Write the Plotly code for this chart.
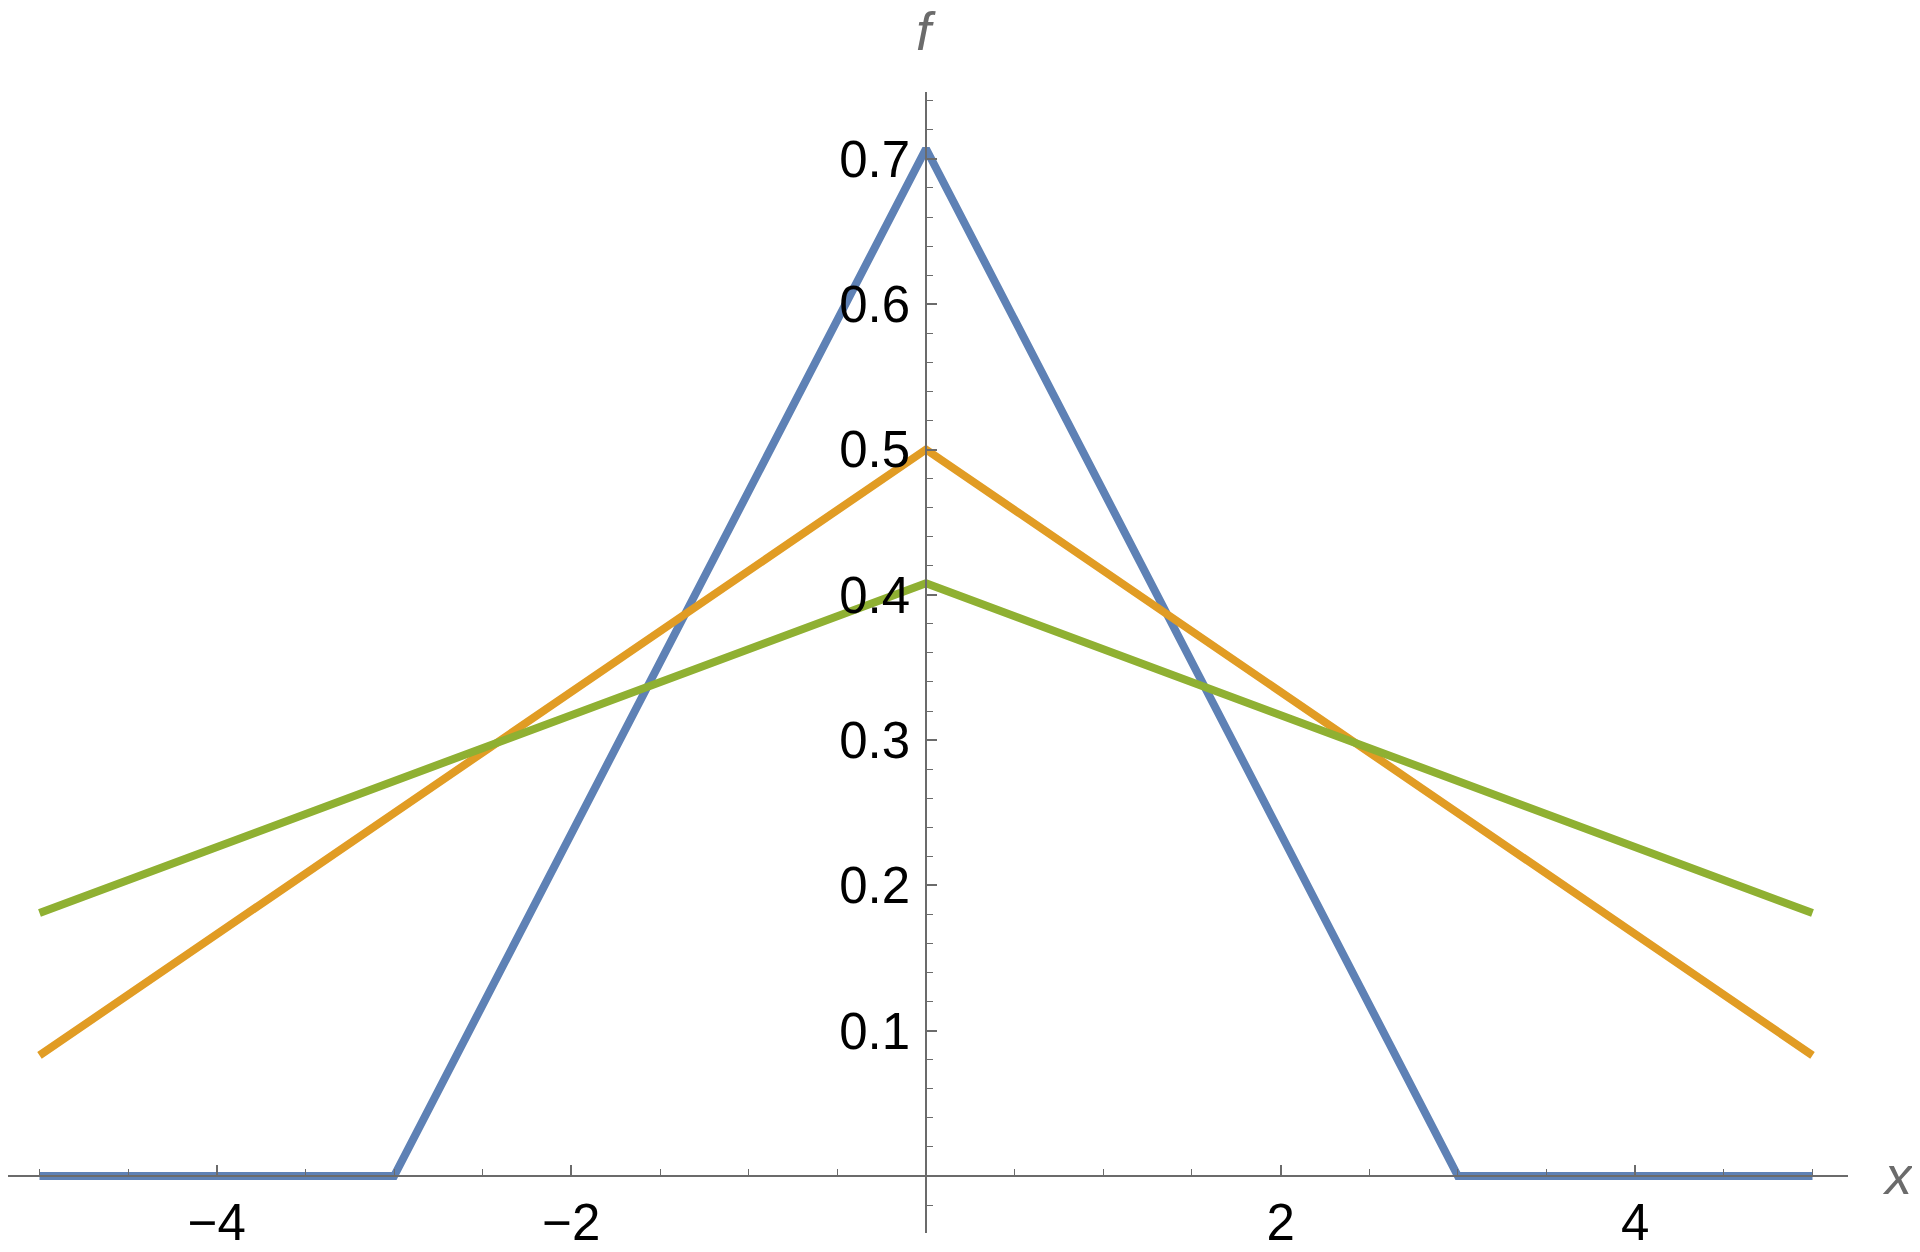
import plotly.graph_objects as go

# values
x_blue = [-5, -3, 0, 3, 5]
y_blue = [0, 0, 0.707, 0, 0]
x_orange = [-5, 0, 5]
y_orange = [0.083, 0.5, 0.083]
x_green = [-5, 0, 5]
y_green = [0.181, 0.408, 0.181]

x_ticks = [-4, -2, 2, 4]
x_tick_text = ["\u22124", "\u22122", "2", "4"]
y_ticks = [0.1, 0.2, 0.3, 0.4, 0.5, 0.6, 0.7]
y_tick_text = ["0.1", "0.2", "0.3", "0.4", "0.5", "0.6", "0.7"]

# the page body has an 8px margin, so the figure sits at (8, 8);
# size it so the page does not overflow the window
W, H = 1912, 1236
X0, Y0 = 918, 1168          # pixel position of the origin inside the figure
PX_X, PX_Y = 177.3, 1453.0  # pixels per data unit
AXIS_GRAY = "#6b6b6b"
FONT = "Liberation Sans, Arial, sans-serif"

fig = go.Figure()
fig.add_trace(go.Scatter(x=x_blue, y=y_blue, mode="lines",
                         line=dict(color="#5E81B5", width=8), name="a"))
fig.add_trace(go.Scatter(x=x_orange, y=y_orange, mode="lines",
                         line=dict(color="#E19C24", width=8), name="b"))
fig.add_trace(go.Scatter(x=x_green, y=y_green, mode="lines",
                         line=dict(color="#8FB032", width=8), name="c"))

tickfont = dict(family=FONT, size=51, color="black")

x_right = 1840
y_top, y_bot = 84, 1225

fig.update_layout(
    width=W, height=H,
    margin=dict(l=0, r=0, t=0, b=0),
    paper_bgcolor="white", plot_bgcolor="white",
    showlegend=False,
    xaxis=dict(
        domain=[0, x_right / W],
        range=[(0 - X0) / PX_X, (x_right - X0) / PX_X],
        anchor="free", position=(H - Y0) / H, automargin=False,
        showgrid=False, zeroline=False,
        showline=True, linecolor=AXIS_GRAY, linewidth=1.5,
        tickmode="array", tickvals=x_ticks, ticktext=x_tick_text,
        ticks="inside", ticklen=10, tickwidth=1.5, tickcolor=AXIS_GRAY,
        minor=dict(dtick=0.5, tick0=0, ticks="inside", ticklen=6,
                   tickwidth=1.2, tickcolor=AXIS_GRAY, showgrid=False),
        tickfont=tickfont, ticklabelstandoff=2,
    ),
    yaxis=dict(
        domain=[(H - y_bot) / H, (H - y_top) / H],
        range=[(Y0 - y_bot) / PX_Y, (Y0 - y_top) / PX_Y],
        anchor="free", position=X0 / W, automargin=False,
        showgrid=False, zeroline=False,
        showline=True, linecolor=AXIS_GRAY, linewidth=1.5,
        tickmode="array", tickvals=y_ticks, ticktext=y_tick_text,
        ticks="inside", ticklen=10, tickwidth=1.5, tickcolor=AXIS_GRAY,
        minor=dict(dtick=0.02, tick0=0, ticks="inside", ticklen=6,
                   tickwidth=1.2, tickcolor=AXIS_GRAY, showgrid=False),
        tickfont=tickfont, ticklabelstandoff=5,
    ),
    annotations=[
        dict(text="<i>f</i>", xref="paper", yref="paper",
             x=X0 / W, y=1 - 23 / H, xanchor="center", yanchor="middle",
             showarrow=False, font=dict(family=FONT, size=54, color=AXIS_GRAY)),
        dict(text="<i>x</i>", xref="paper", yref="paper",
             x=1890 / W, y=1 - 1167 / H, xanchor="center", yanchor="middle",
             showarrow=False, font=dict(family=FONT, size=54, color=AXIS_GRAY)),
    ],
)

fig.write_html("out.html")
